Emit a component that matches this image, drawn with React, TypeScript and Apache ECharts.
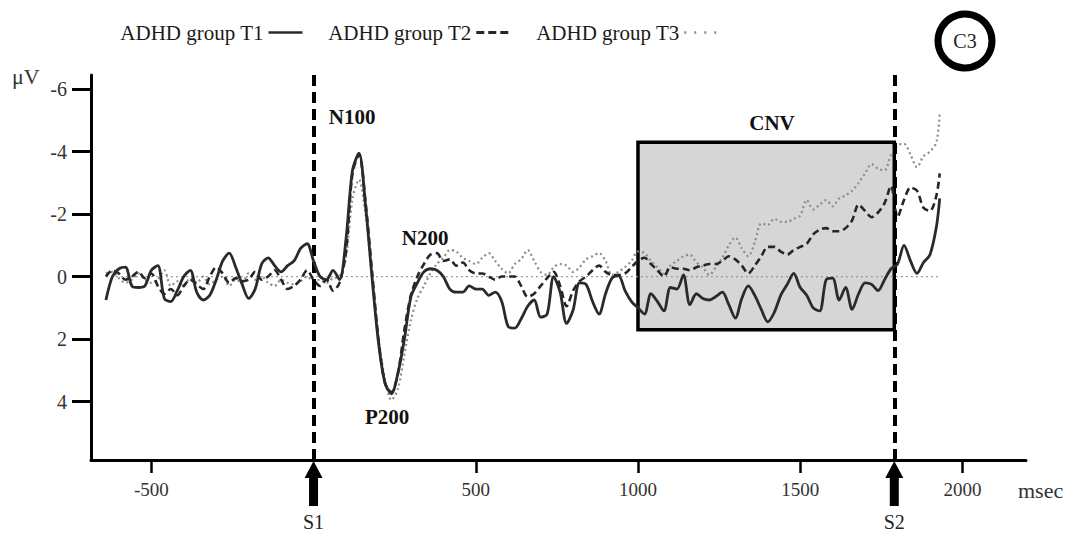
import React, { useEffect, useRef } from "react";
import * as echarts from "echarts";

const FONT = '"Liberation Serif", "Times New Roman", serif';

// time grid (ms) of the averaged ERP waveforms
const timesMs = [
  -640, -620, -600, -580, -560, -540, -520, -500, -480, -460,
  -440, -420, -400, -380, -360, -340, -320, -300, -280, -260,
  -240, -220, -200, -180, -160, -140, -120, -100, -80, -60,
  -40, -20, 0, 20, 40, 60, 80, 100, 120, 140,
  160, 180, 200, 220, 240, 260, 280, 300, 320, 340,
  360, 380, 400, 420, 440, 460, 480, 500, 520, 540,
  560, 580, 600, 620, 640, 660, 680, 700, 720, 740,
  760, 780, 800, 820, 840, 860, 880, 900, 920, 940,
  960, 980, 1000, 1020, 1040, 1060, 1080, 1100, 1120, 1140,
  1160, 1180, 1200, 1220, 1240, 1260, 1280, 1300, 1320, 1340,
  1360, 1380, 1400, 1420, 1440, 1460, 1480, 1500, 1520, 1540,
  1560, 1580, 1600, 1620, 1640, 1660, 1680, 1700, 1720, 1740,
  1760, 1780, 1800, 1820, 1840, 1860, 1880, 1900, 1920, 1930,
];

// µV values (negative up)
const groupT1 = [
  0.75, 0.0, -0.25, -0.3, 0.3, 0.35, 0.3, -0.2, -0.35, 0.7,
  0.8, 0.45, 0.0, -0.2, 0.5, 0.75, 0.6, 0.1, -0.5, -0.75,
  -0.3, 0.25, 0.7, 0.4, -0.4, -0.6, -0.35, -0.15, -0.35, -0.5,
  -0.9, -1.05, -0.5, 0.0, 0.1, -0.2, 0.1, -1.2, -3.4, -3.95,
  -2.3, 0.0, 2.1, 3.4, 3.75, 3.1, 2.0, 0.65, 0.2, -0.15,
  -0.25, -0.2, 0.0, 0.4, 0.5, 0.5, 0.3, 0.4, 0.4, 0.6,
  0.5, 0.8, 1.6, 1.65, 1.35, 0.95, 0.75, 1.3, 1.2, 0.0,
  0.5, 1.5, 1.07, 0.2, 0.25, 0.8, 1.2, 0.55, 0.05, -0.03,
  0.45, 0.8, 1.0, 1.2, 0.55, 0.8, 1.1, 0.35, 0.4, -0.05,
  0.9, 0.55, 0.7, 0.75, 0.64, 0.5, 0.9, 1.33, 0.7, 0.3,
  0.6, 1.05, 1.45, 1.15, 0.6, 0.25, -0.1, 0.35, 0.6, 1.0,
  1.1, 0.1, 0.05, 0.75, 0.35, 1.05, 0.55, 0.2, 0.25, 0.45,
  0.1, -0.25, -0.4, -1.0, -0.5, -0.1, -0.45, -0.7, -1.6, -2.5,
];

const groupT2 = [
  0.0, -0.2, -0.1, 0.1, 0.0, -0.15, 0.05, -0.1, 0.3, 0.55,
  0.4, 0.6, 0.3, 0.1, 0.25, 0.4, 0.0, -0.3, -0.1, 0.2,
  0.05, 0.15, 0.1, -0.15, 0.1, 0.0, -0.2, 0.1, 0.4, 0.3,
  0.1, -0.2, 0.1, 0.3, 0.1, 0.45, 0.2, -0.8, -3.3, -3.9,
  -2.4, -0.2, 2.0, 3.4, 3.7, 3.1, 1.7, 0.6, 0.0, -0.4,
  -0.7, -0.75, -0.5, -0.55, -0.35, -0.45, -0.2, -0.1, -0.1, 0.0,
  0.1, 0.0, 0.0, 0.0, 0.3, 0.65, 0.55, 0.3, 0.05, -0.15,
  0.3, 0.95, 0.45, 0.15, 0.0, -0.2, -0.35, -0.15, -0.05, -0.05,
  -0.1, -0.3, -0.5, -0.6, -0.4, -0.2, 0.0, -0.3, -0.25, -0.25,
  -0.2, -0.3, -0.35, -0.4, -0.4, -0.5, -0.65, -0.55, -0.35, -0.1,
  -0.35, -0.65, -0.95, -0.95, -0.8, -0.7, -0.85, -0.95, -1.05, -1.35,
  -1.5, -1.55, -1.45, -1.45, -1.55, -1.8, -2.3, -2.1, -1.9, -2.05,
  -2.35, -2.9, -1.9, -2.45, -2.85, -2.75, -2.2, -2.1, -2.6, -3.3,
];

const groupT3 = [
  -0.1, -0.15, 0.05, 0.2, 0.1, -0.1, 0.1, 0.2, 0.1, -0.2,
  0.3, 0.15, 0.3, 0.05, 0.2, 0.0, 0.25, 0.1, 0.0, 0.3,
  0.1, 0.2, -0.1, 0.1, 0.0, 0.2, 0.3, 0.1, 0.2, 0.25,
  0.15, 0.0, 0.15, 0.1, 0.2, 0.05, 0.0, -0.6, -2.5, -3.1,
  -2.0, 0.0, 1.9, 3.3, 3.95, 3.6, 2.5, 1.4, 0.7, 0.3,
  -0.1, -0.4, -0.6, -0.85, -0.8, -0.6, -0.5, -0.4, -0.6, -0.75,
  -0.5, -0.25, -0.1, -0.4, -0.55, -0.85, -0.5, -0.15, -0.05, -0.3,
  -0.4, -0.35, -0.15, -0.3, -0.55, -0.65, -0.75, -0.5, -0.05, -0.15,
  -0.3, -0.5, -0.8, -0.75, -0.5, -0.3, -0.1, -0.35, -0.5, -0.65,
  -0.7, -0.45, -0.3, -0.05, -0.3, -0.6, -1.0, -1.25, -0.9, -0.65,
  -1.1, -1.7, -1.65, -1.85, -1.75, -1.75, -1.85, -1.95, -2.45, -2.15,
  -2.3, -2.45, -2.25, -2.5, -2.6, -2.75, -3.0, -3.3, -3.6, -3.45,
  -3.4, -3.9, -4.2, -4.25, -3.9, -3.5, -3.85, -4.0, -4.3, -5.2,
];

const seriesNames = ["ADHD group T1", "ADHD group T2", "ADHD group T3"];
const xTickValues = [-500, 500, 1000, 1500, 2000];
const yTickValues = [-6, -4, -2, 0, 2, 4];
const xRange = [-686, 2196];
const yRange = [-6.45, 5.87];
const baselineTimes = [-640, 1930];
const stimulusNames = ["S1", "S2"];
const stimulusTimes = [0, 1790];
const cnvTimes = [1000, 1790];
const cnvVoltages = [-4.3, 1.7];
const peakNames = ["N100", "N200", "P200", "CNV"];
const peakLabelTimes = [119, 344, 227, 1413];
const peakLabelVoltages = [-5.1, -1.25, 4.5, -4.9];

export default function App() {
  const ref = useRef<HTMLDivElement>(null);

  useEffect(() => {
    if (!ref.current) return;
    const chart = echarts.init(ref.current, null, { renderer: "svg" });
    const zip = (vals: number[]) => timesMs.map((t, i) => [t, vals[i]]);

    const option: any = {
      animation: false,
      backgroundColor: "#fff",
      grid: { left: 91, right: 52, top: 75, bottom: 76, containLabel: false },
      legend: {
        data: [
          { name: seriesNames[0], lineStyle: { width: 2.6 } },
          { name: seriesNames[1], lineStyle: { width: 3, type: [8, 4] } },
          { name: seriesNames[2], lineStyle: { width: 2.5, type: [2, 8], color: "#8c8c8c" } },
        ],
        left: 115,
        top: 17,
        align: "right",
        itemWidth: 34,
        itemHeight: 14,
        itemGap: 24,
        selectedMode: false,
        itemStyle: { opacity: 0 },
        textStyle: { fontFamily: FONT, fontSize: 21, color: "#1a1a1a" },
      },
      xAxis: {
        type: "value",
        min: xRange[0],
        max: xRange[1],
        axisLine: { onZero: false, lineStyle: { color: "#000", width: 3 } },
        axisTick: {
          show: true,
          length: 13,
          customValues: xTickValues,
          lineStyle: { color: "#000", width: 2.5 },
        },
        axisLabel: {
          customValues: xTickValues,
          formatter: (v: number) => String(v),
          margin: 20,
          fontFamily: FONT,
          fontSize: 19,
          color: "#333",
        },
        splitLine: { show: false },
      },
      yAxis: {
        type: "value",
        inverse: true,
        min: yRange[0],
        max: yRange[1],
        axisLine: { show: true, onZero: false, lineStyle: { color: "#000", width: 3 } },
        axisTick: {
          show: true,
          length: 19,
          customValues: yTickValues,
          lineStyle: { color: "#000", width: 3 },
        },
        axisLabel: {
          customValues: yTickValues,
          formatter: (v: number) => String(v),
          margin: 24,
          fontFamily: FONT,
          fontSize: 20,
          color: "#333",
        },
        splitLine: { show: false },
      },
      series: [
        {
          name: "cnv-window",
          type: "line",
          data: [],
          z: 1,
          silent: true,
          markArea: {
            silent: true,
            itemStyle: { color: "#d6d6d6", borderColor: "#000", borderWidth: 3.5 },
            label: { show: false },
            data: [
              [
                { xAxis: cnvTimes[0], yAxis: cnvVoltages[0] },
                { xAxis: cnvTimes[1], yAxis: cnvVoltages[1] },
              ],
            ],
          },
        },
        {
          name: "baseline",
          type: "line",
          data: baselineTimes.map((t) => [t, 0]),
          symbol: "none",
          z: 2,
          silent: true,
          lineStyle: { color: "#9a9a9a", width: 1.2, type: [2, 3] },
        },
        {
          name: seriesNames[2],
          type: "line",
          data: zip(groupT3),
          symbol: "none",
          showSymbol: false,
          smooth: 0.3,
          z: 3,
          silent: true,
          itemStyle: { color: "#8c8c8c" },
          lineStyle: { color: "#8c8c8c", width: 2.2, type: [2, 3] },
        },
        {
          name: seriesNames[1],
          type: "line",
          data: zip(groupT2),
          symbol: "none",
          showSymbol: false,
          smooth: 0.3,
          z: 4,
          silent: true,
          itemStyle: { color: "#262626" },
          lineStyle: { color: "#262626", width: 2.6, type: [7, 4] },
        },
        {
          name: seriesNames[0],
          type: "line",
          data: zip(groupT1),
          symbol: "none",
          showSymbol: false,
          smooth: 0.3,
          z: 5,
          silent: true,
          itemStyle: { color: "#2a2a2a" },
          lineStyle: { color: "#2a2a2a", width: 2.8 },
        },
        {
          name: "stimuli",
          type: "line",
          data: [],
          z: 10,
          silent: true,
          markLine: {
            silent: true,
            symbol: ["none", "none"],
            label: { show: false },
            lineStyle: { color: "#000", width: 4, type: [11, 6] },
            data: stimulusTimes.map((t) => ({ xAxis: t })),
          },
        },
      ],
    };
    chart.setOption(option);

    const toPx = (t: number, v: number) =>
      chart.convertToPixel({ gridIndex: 0 }, [t, v]) as number[];
    const axisY = toPx(0, yRange[1])[1];

    const elements: any[] = [];
    stimulusTimes.forEach((t, i) => {
      const cx = toPx(t, 0)[0];
      elements.push({
        type: "polygon",
        z: 20,
        shape: {
          points: [
            [cx, axisY + 1],
            [cx + 9, axisY + 18],
            [cx + 4.5, axisY + 18],
            [cx + 4.5, axisY + 46],
            [cx - 4.5, axisY + 46],
            [cx - 4.5, axisY + 18],
            [cx - 9, axisY + 18],
          ],
        },
        style: { fill: "#000" },
      });
      elements.push({
        type: "text",
        z: 20,
        x: cx,
        y: axisY + 62,
        style: {
          text: stimulusNames[i],
          font: `20px ${FONT}`,
          fill: "#222",
          align: "center",
          verticalAlign: "middle",
        },
      });
    });
    peakNames.forEach((name, i) => {
      const p = toPx(peakLabelTimes[i], peakLabelVoltages[i]);
      elements.push({
        type: "text",
        z: 20,
        x: p[0],
        y: p[1],
        style: {
          text: name,
          font: `bold 21px ${FONT}`,
          fill: "#111",
          align: "center",
          verticalAlign: "middle",
        },
      });
    });
    elements.push({
      type: "text",
      z: 20,
      x: 12,
      y: 76,
      style: { text: "μV", font: `22px ${FONT}`, fill: "#333", verticalAlign: "middle" },
    });
    elements.push({
      type: "text",
      z: 20,
      x: 1018,
      y: 490,
      style: { text: "msec", font: `22px ${FONT}`, fill: "#333", verticalAlign: "middle" },
    });
    elements.push({
      type: "circle",
      z: 20,
      shape: { cx: 965, cy: 41, r: 27 },
      style: { fill: "#fff", stroke: "#000", lineWidth: 7 },
    });
    elements.push({
      type: "text",
      z: 21,
      x: 965,
      y: 41,
      style: {
        text: "C3",
        font: `20px ${FONT}`,
        fill: "#222",
        align: "center",
        verticalAlign: "middle",
      },
    });
    chart.setOption({ graphic: elements });

    return () => chart.dispose();
  }, []);

  return (
    <div
      ref={ref}
      style={{ position: "absolute", left: 0, top: 0, width: 1078, height: 536, background: "#fff" }}
    />
  );
}
